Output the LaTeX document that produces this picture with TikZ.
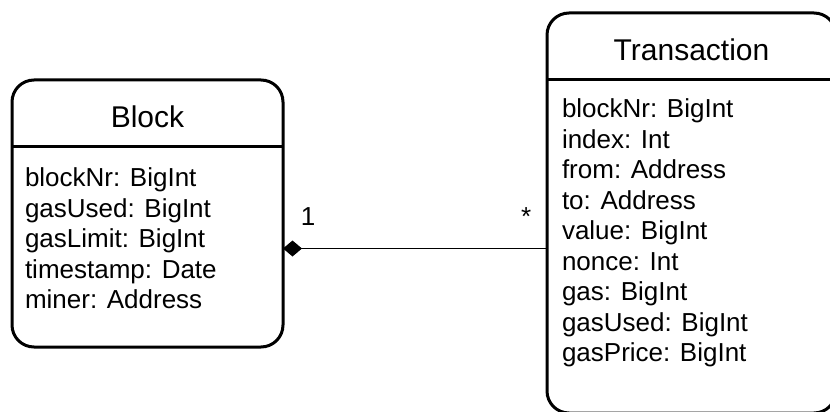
\documentclass[tikz,border=0pt]{standalone}
\usepackage{fontspec}
\setmainfont{Liberation Sans}
\usetikzlibrary{positioning,arrows.meta}

\begin{document}
\begin{tikzpicture}[
    x=1pt, y=-1pt,
    cls/.style={rectangle, draw=black, line width=3pt, rounded corners=22pt,
                anchor=north west, inner sep=0pt, outer sep=0pt},
    head/.style={rectangle, inner sep=0pt, outer sep=0pt, text height=28pt, text depth=0pt,
                 font=\fontsize{30}{36}\selectfont},
    attrs/.style={inner sep=0pt, outer sep=0pt, align=left,
                  font=\fontsize{26}{30.5}\selectfont},
    divider/.style={draw=black, line width=3pt},
    comp/.style={{Diamond[length=19pt,width=16pt]}-, line width=1.5pt, draw=black},
    mult/.style={inner sep=0pt, font=\fontsize{26}{30}\selectfont}
]
\useasboundingbox (0,0) rectangle (830,412);
\clip (0,0) rectangle (830,412);

% Block class
\node[cls, minimum width=271pt, minimum height=267pt] (block) at (12,80) {};
\node[head, minimum width=271pt, minimum height=66pt, below=0pt of block.north] (blockhead) {Block};
\draw[divider] (blockhead.south west) -- (blockhead.south east);
\node[attrs, below right=22pt and 13pt of blockhead.south west] (blockattrs)
     {blockNr: BigInt\\
      gasUsed: BigInt\\
      gasLimit: BigInt\\
      timestamp: Date\\
      miner: Address};

% Transaction class
\node[cls, minimum width=289pt, minimum height=400pt] (txn) at (547,13) {};
\node[head, minimum width=289pt, minimum height=67pt, below=0pt of txn.north] (txnhead) {Transaction};
\draw[divider] (txnhead.south west) -- (txnhead.south east);
\node[attrs, below right=19pt and 15pt of txnhead.south west] (txnattrs)
     {blockNr: BigInt\\
      index: Int\\
      from: Address\\
      to: Address\\
      value: BigInt\\
      nonce: Int\\
      gas: BigInt\\
      gasUsed: BigInt\\
      gasPrice: BigInt};

% Composition
\coordinate (link) at ([yshift=-35pt]block.east);
\draw[comp] (link) -- (link -| txn.west)
    node[pos=0, mult, anchor=base west, xshift=17pt, yshift=23pt] (one) {1}
    node[pos=1, mult, anchor=base east, xshift=-15pt, yshift=23pt] (many) {*};

\end{tikzpicture}
\end{document}
